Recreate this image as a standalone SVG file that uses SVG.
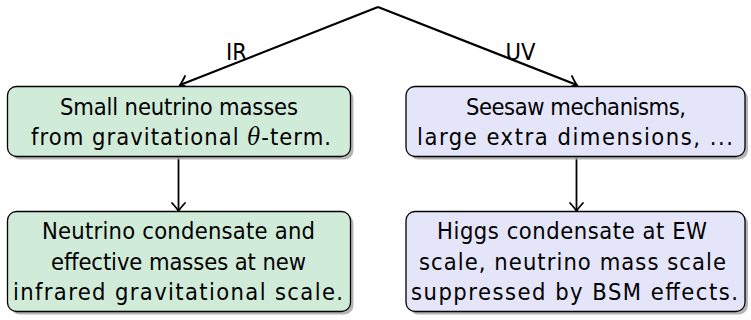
<svg xmlns="http://www.w3.org/2000/svg" width="751" height="320" viewBox="0 0 751 320">
<style>
.box{stroke:#000;stroke-width:1.3}
.g{fill:#d1ebd9}
.b{fill:#e5e5fa}
.sh{fill:#a8a8a8;opacity:0.85}
text{font-family:"DejaVu Sans Condensed","DejaVu Sans",sans-serif;font-stretch:condensed;font-size:23.5px;fill:#000;text-anchor:middle}
.th{font-family:"DejaVu Serif","Liberation Serif",serif;font-style:italic}
.c{stroke:#000;fill:none}
</style>
<defs>
<marker id="arr" markerUnits="userSpaceOnUse" markerWidth="20" markerHeight="20" viewBox="-10 -10 20 20" refX="0" refY="0" orient="auto">
<path d="M-8,-6.5 Q-2.5,-1.5 0,0 Q-2.5,1.5 -8,6.5" fill="none" stroke="#000" stroke-width="1.8" stroke-linecap="round"/>
</marker>
</defs>
<g id="connectors">
<path class="c" d="M378,7 L180,85" stroke-width="2.2" marker-end="url(#arr)"/>
<path class="c" d="M378,7 L577,85" stroke-width="2.2" marker-end="url(#arr)"/>
<path class="c" d="M178.5,157 L178.5,211" stroke-width="1.8" marker-end="url(#arr)"/>
<path class="c" d="M576.5,157 L576.5,211" stroke-width="1.8" marker-end="url(#arr)"/>
<text x="236.5" y="60">IR</text>
<text x="520.5" y="60">UV</text>
</g>
<g id="n1">
<rect class="sh" x="10.5" y="89.5" width="343" height="70" rx="9"/>
<rect class="box g" x="7.5" y="86.5" width="343" height="70" rx="9"/>
<text x="179" y="115" textLength="238" lengthAdjust="spacing">Small neutrino masses</text>
<text x="181" y="145" textLength="300" lengthAdjust="spacing">from gravitational <tspan class="th">θ</tspan>-term.</text>
</g>
<g id="n2">
<rect class="sh" x="409" y="89.5" width="339" height="70" rx="9"/>
<rect class="box b" x="406" y="86.5" width="339" height="70" rx="9"/>
<text x="576" y="115" textLength="220" lengthAdjust="spacing">Seesaw mechanisms,</text>
<text x="575" y="145" textLength="316" lengthAdjust="spacing">large extra dimensions, ...</text>
</g>
<g id="n3">
<rect class="sh" x="10.5" y="214.5" width="343" height="100" rx="9"/>
<rect class="box g" x="7.5" y="211.5" width="343" height="100" rx="9"/>
<text x="178.5" y="239" textLength="273" lengthAdjust="spacing">Neutrino condensate and</text>
<text x="178.5" y="270" textLength="255" lengthAdjust="spacing">effective masses at new</text>
<text x="178" y="300" textLength="330" lengthAdjust="spacing">infrared gravitational scale.</text>
</g>
<g id="n4">
<rect class="sh" x="409" y="214.5" width="339" height="100" rx="9"/>
<rect class="box b" x="406" y="211.5" width="339" height="100" rx="9"/>
<text x="572" y="239" textLength="270" lengthAdjust="spacing">Higgs condensate at EW</text>
<text x="572.5" y="270" textLength="307" lengthAdjust="spacing">scale, neutrino mass scale</text>
<text x="574.5" y="300" textLength="327" lengthAdjust="spacing">suppressed by BSM effects.</text>
</g>
</svg>
